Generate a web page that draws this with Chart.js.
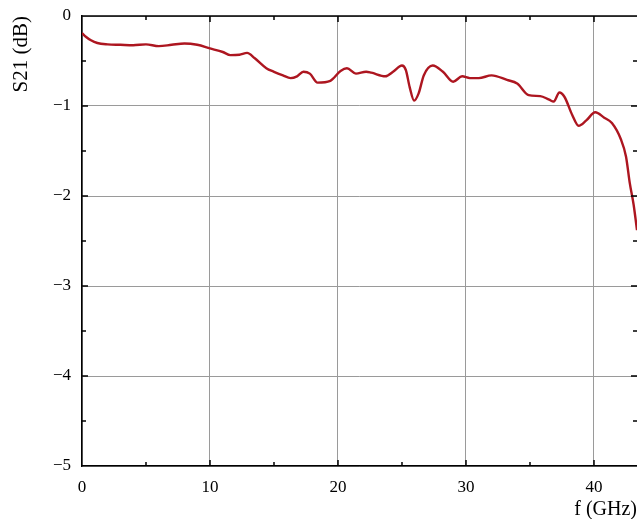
<!DOCTYPE html>
<html>
<head>
<meta charset="utf-8">
<script src="https://cdn.jsdelivr.net/npm/chart.js@4"></script>
<style>
  html, body { margin: 0; padding: 0; background: #fff; }
  #wrap { width: 637px; height: 519px; }
</style>
</head>
<body>
<div id="wrap"><canvas id="s21Chart" width="637" height="519"></canvas></div>
<script>
// frequency (GHz) and measured S21 (dB)
var freq = [0, 0.3, 0.7, 1.2, 2, 3, 4, 5, 6, 7, 8, 9, 10, 11, 11.6, 12.3, 12.9, 13.5, 14.4, 15,
    15.7, 16.3, 16.8, 17.3, 17.8, 18.4, 19.4, 20.2, 20.7, 21.4, 22.2, 22.6, 23.7, 24.3, 25.0,
    25.3, 25.6, 25.95, 26.3, 26.7, 27.4, 28.2, 29.0, 29.7, 30.3, 31.0, 32.0, 33.2, 34.0, 34.9,
    35.8, 36.5, 36.85, 37.3, 37.7, 38.3, 38.8, 39.4, 40.1, 40.8, 41.4, 42.1, 42.5, 42.8, 43.1, 43.36];
var s21 = [-0.19, -0.23, -0.27, -0.30, -0.315, -0.32, -0.325, -0.315, -0.335, -0.32, -0.305, -0.32,
    -0.36, -0.40, -0.435, -0.43, -0.41, -0.47, -0.58, -0.62, -0.66, -0.69, -0.67, -0.62, -0.64,
    -0.74, -0.72, -0.61, -0.58, -0.64, -0.62, -0.63, -0.67, -0.62, -0.55, -0.60, -0.79, -0.94,
    -0.86, -0.66, -0.55, -0.62, -0.73, -0.67, -0.69, -0.69, -0.66, -0.71, -0.75, -0.88, -0.89,
    -0.93, -0.95, -0.85, -0.90, -1.10, -1.22, -1.16, -1.07, -1.13, -1.19, -1.37, -1.56, -1.86,
    -2.10, -2.38];

var xTicks = [0, 10, 20, 30, 40];
var yTicks = [0, -1, -2, -3, -4, -5];

var points = freq.map(function (f, i) { return { x: f, y: s21[i] }; });
var serif = '"Liberation Serif", "DejaVu Serif", serif';

// inward tick marks + top frame, drawn through the scales
var frameTicks = {
    id: 'frameTicks',
    afterDraw: function (chart) {
        var c = chart.ctx, a = chart.chartArea;
        var xs = chart.scales.x, ys = chart.scales.y;
        c.save();
        c.strokeStyle = '#000';
        c.lineWidth = 1.5;
        c.beginPath();
        c.moveTo(a.left, a.top); c.lineTo(a.right, a.top);
        for (var f = 5; f < 43.36; f += 5) {
            var px = xs.getPixelForValue(f);
            var len = (f % 10 === 0) ? 6 : 4;
            c.moveTo(px, a.bottom); c.lineTo(px, a.bottom - len);
            c.moveTo(px, a.top); c.lineTo(px, a.top + len);
        }
        for (var v = -0.5; v > -5; v -= 0.5) {
            var py = ys.getPixelForValue(v);
            var l2 = (Math.abs(v % 1) < 1e-6) ? 6 : 4;
            c.moveTo(a.left, py); c.lineTo(a.left + l2, py);
            c.moveTo(a.right, py); c.lineTo(a.right - l2, py);
        }
        c.stroke();
        c.restore();
    }
};

var ctx = document.getElementById('s21Chart').getContext('2d');
var chart = new Chart(ctx, {
    type: 'line',
    data: {
        datasets: [{
            label: 'S21',
            data: points,
            borderColor: '#ad1620',
            borderWidth: 2.4,
            pointRadius: 0,
            fill: false,
            cubicInterpolationMode: 'monotone'
        }]
    },
    options: {
        responsive: false,
        animation: false,
        layout: { padding: { top: 16, right: 0, left: 0, bottom: 0 } },
        plugins: { legend: { display: false }, tooltip: { enabled: false } },
        scales: {
            x: {
                type: 'linear',
                min: 0,
                max: 43.36,
                afterFit: function (s) { s.height = 53; s.paddingLeft = 0; s.paddingRight = 0; },
                ticks: {
                    stepSize: 5,
                    includeBounds: false,
                    maxRotation: 0,
                    autoSkip: false,
                    padding: 11,
                    color: '#000',
                    font: { family: serif, size: 17 },
                    callback: function (v) { return xTicks.indexOf(v) >= 0 ? String(v) : ''; }
                },
                grid: {
                    drawTicks: false,
                    lineWidth: 1,
                    color: function (c) { return (c.tick && c.tick.value % 10 === 0) ? '#9a9a9a' : 'rgba(0,0,0,0)'; }
                },
                border: { color: '#000', width: 1.5 },
                title: {
                    display: true,
                    text: 'f (GHz)',
                    align: 'end',
                    color: '#000',
                    font: { family: serif, size: 20 },
                    padding: { top: 0, bottom: -3 }
                }
            },
            y: {
                type: 'linear',
                min: -5,
                max: 0,
                afterFit: function (s) { s.width = 82; s.paddingTop = 0; s.paddingBottom = 0; },
                ticks: {
                    stepSize: 0.5,
                    autoSkip: false,
                    padding: 11,
                    color: '#000',
                    font: { family: serif, size: 17 },
                    callback: function (v) {
                        if (yTicks.indexOf(v) < 0) return '';
                        return v === 0 ? '0' : '\u2212' + Math.abs(v);
                    }
                },
                grid: {
                    drawTicks: false,
                    lineWidth: 1,
                    color: function (c) { return (c.tick && Math.abs(c.tick.value % 1) < 1e-6) ? '#9a9a9a' : 'rgba(0,0,0,0)'; }
                },
                border: { color: '#000', width: 1.5 },
                title: {
                    display: true,
                    text: 'S21 (dB)',
                    align: 'end',
                    color: '#000',
                    font: { family: serif, size: 21 },
                    padding: { top: 9, bottom: 4 }
                }
            }
        }
    },
    plugins: [frameTicks]
});
</script>
</body>
</html>
